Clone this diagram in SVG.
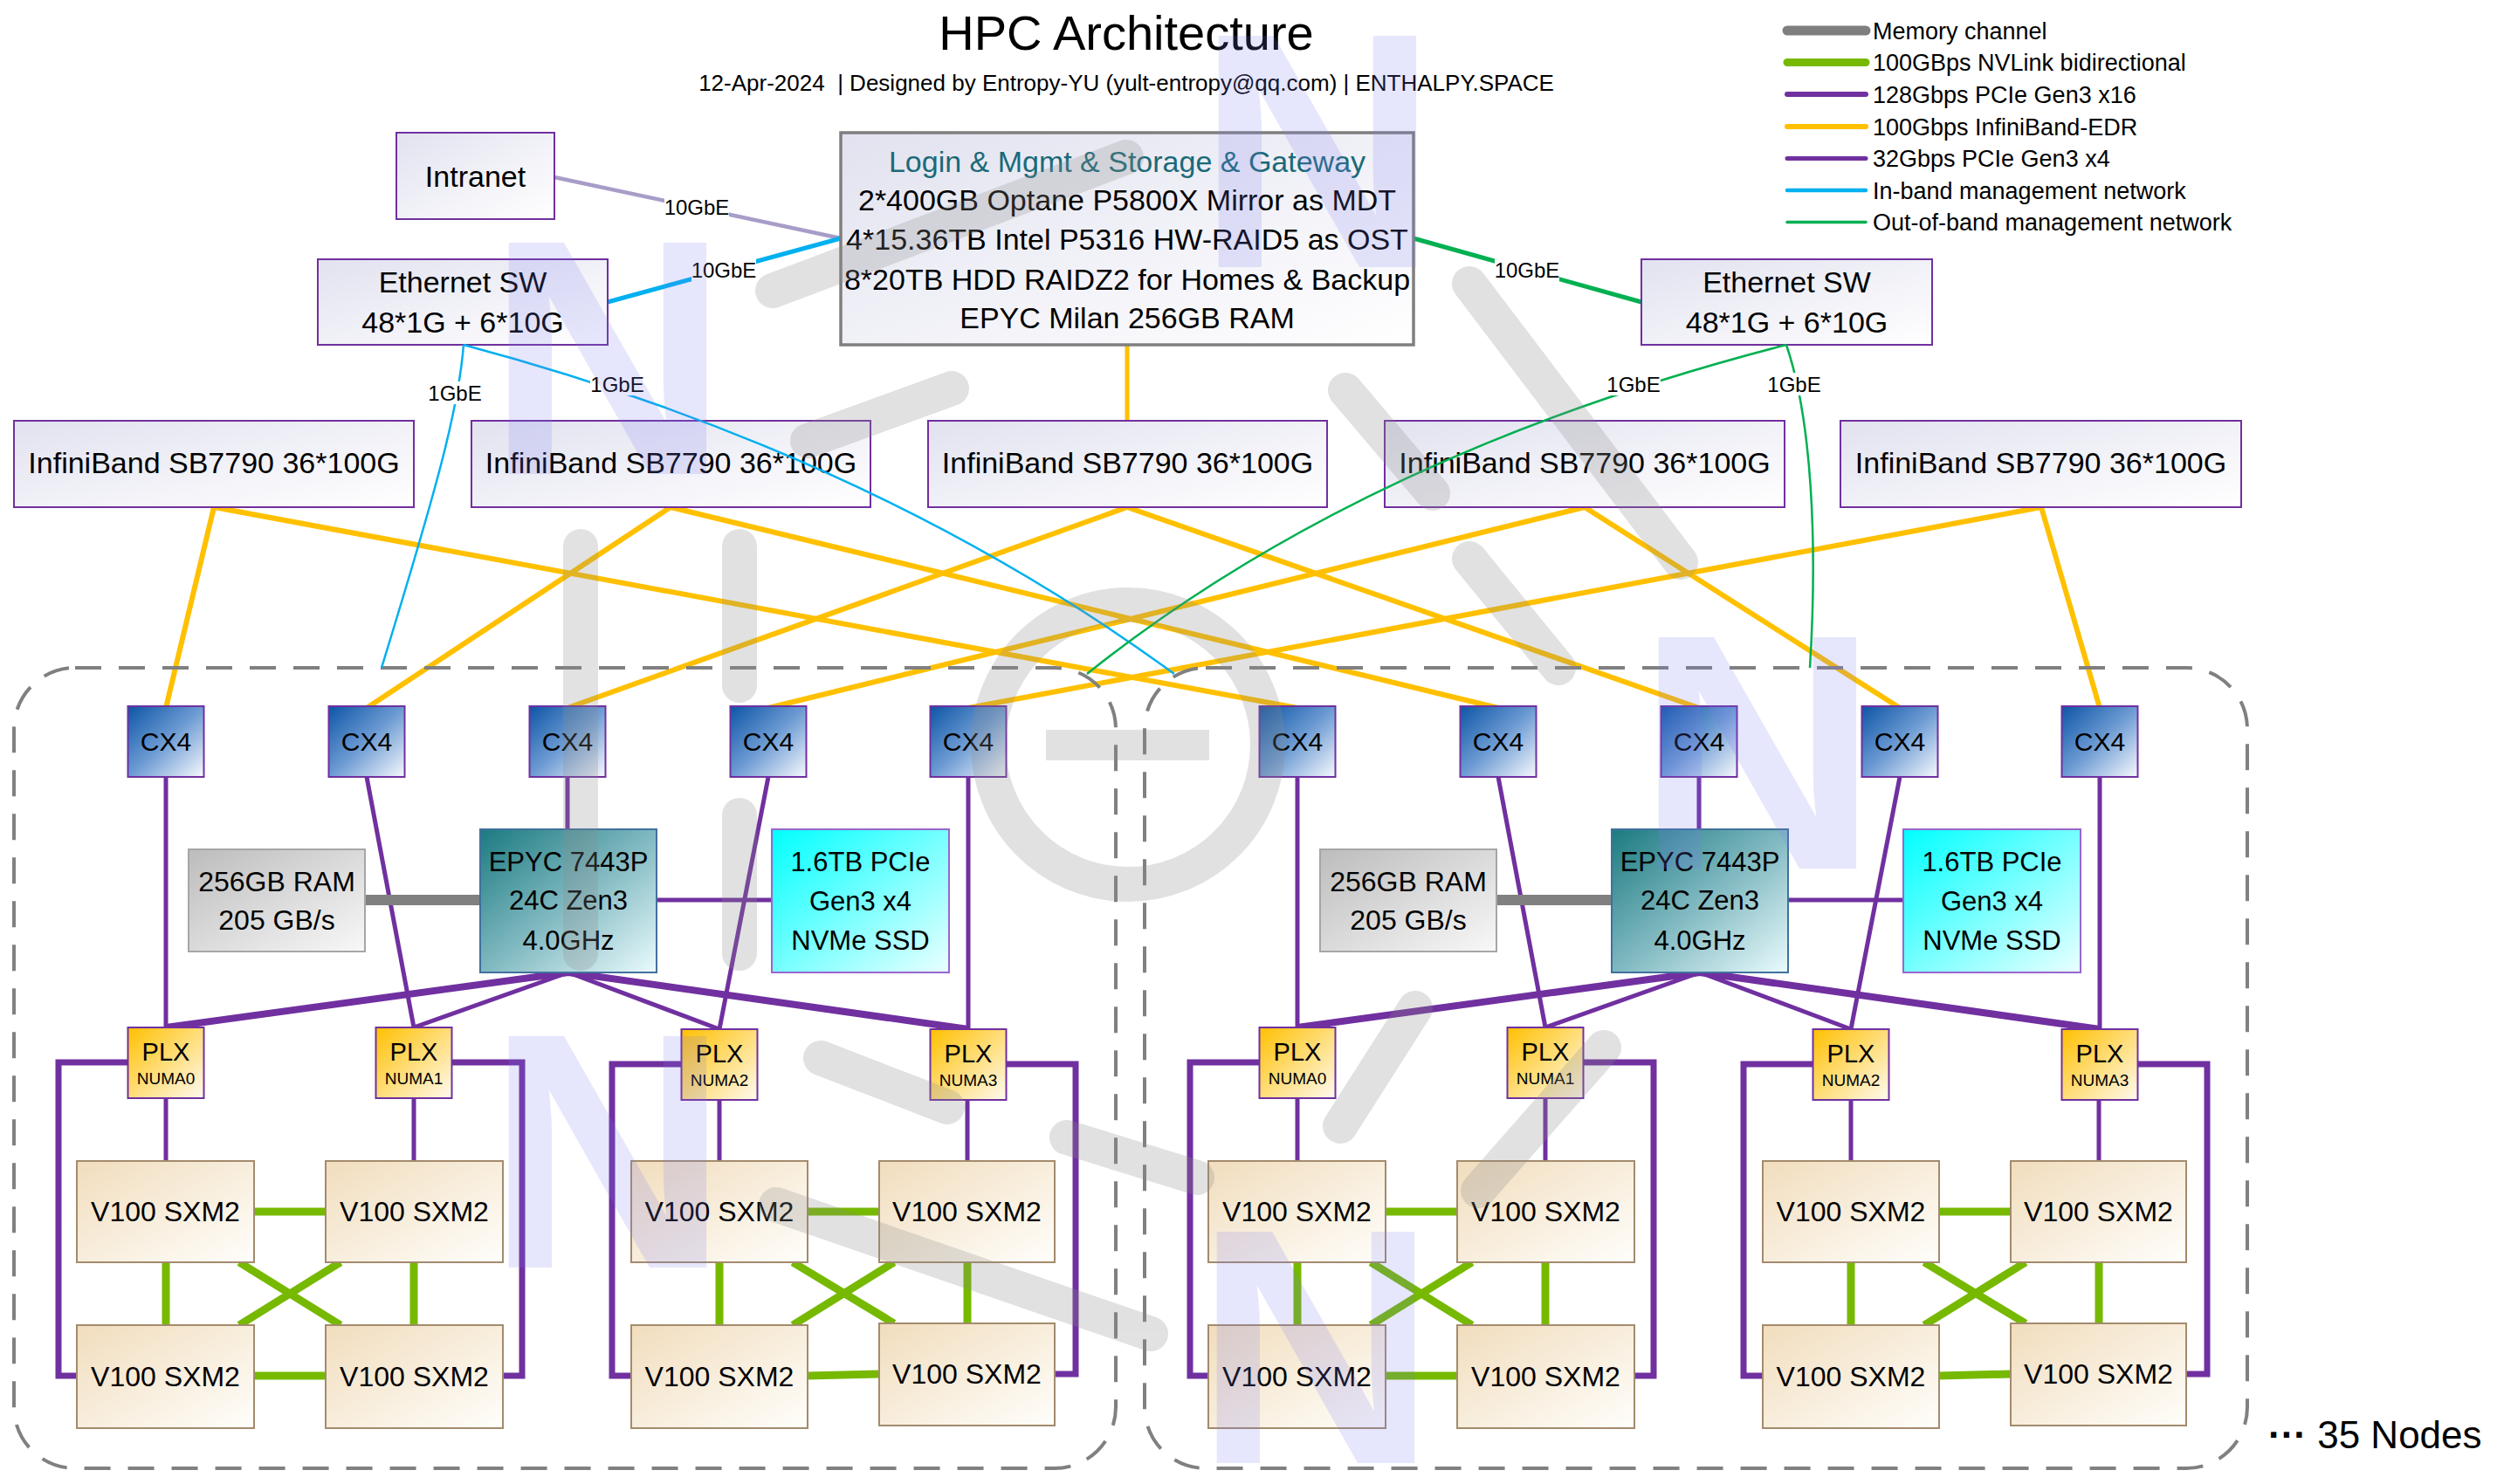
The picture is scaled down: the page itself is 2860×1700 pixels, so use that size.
<svg xmlns="http://www.w3.org/2000/svg" width="2860" height="1700" viewBox="0 0 2860 1700">
<defs>
<linearGradient id="gSw" x1="0" y1="0" x2="1" y2="1"><stop offset="0" stop-color="#e2e2f0"/><stop offset="1" stop-color="#ffffff"/></linearGradient>
<linearGradient id="gCx" x1="0" y1="0" x2="1" y2="1"><stop offset="0" stop-color="#0d55a6"/><stop offset="0.5" stop-color="#6d9bd3"/><stop offset="1" stop-color="#f7f9fd"/></linearGradient>
<linearGradient id="gCpu" x1="0" y1="0" x2="1" y2="1"><stop offset="0" stop-color="#1b7a80"/><stop offset="0.5" stop-color="#7fb8c0"/><stop offset="1" stop-color="#eafbfd"/></linearGradient>
<linearGradient id="gRam" x1="0" y1="0" x2="1" y2="1"><stop offset="0" stop-color="#bcbcbc"/><stop offset="1" stop-color="#f8f8f8"/></linearGradient>
<linearGradient id="gSsd" x1="0" y1="0" x2="1" y2="1"><stop offset="0" stop-color="#00ffff"/><stop offset="1" stop-color="#eaffff"/></linearGradient>
<linearGradient id="gPlx" x1="0" y1="0" x2="1" y2="1"><stop offset="0" stop-color="#ffc000"/><stop offset="1" stop-color="#fffaf0"/></linearGradient>
<linearGradient id="gGpu" x1="0" y1="0" x2="1" y2="1"><stop offset="0" stop-color="#f1ddbd"/><stop offset="1" stop-color="#fffefb"/></linearGradient>
</defs>
<style>
text{font-family:"Liberation Sans",Arial,sans-serif;fill:#000}
.c{text-anchor:middle}
.sw{fill:url(#gSw);stroke:#7030a0;stroke-width:2}
.login{fill:url(#gSw);stroke:#7f7f7f;stroke-width:3.5}
.cx{fill:url(#gCx);stroke:#7030a0;stroke-width:2}
.cpu{fill:url(#gCpu);stroke:#41719c;stroke-width:2}
.ram{fill:url(#gRam);stroke:#a6a6a6;stroke-width:2}
.ssd{fill:url(#gSsd);stroke:#9966cc;stroke-width:2}
.plx{fill:url(#gPlx);stroke:#7030a0;stroke-width:2}
.gpu{fill:url(#gGpu);stroke:#a38b6d;stroke-width:2}
.f34{font-size:34px}.f32{font-size:32px}.f31{font-size:31px}.f30{font-size:30px}.f29{font-size:29px}.f19{font-size:19px}.f24{font-size:24px}.f27{font-size:27px}
.ib{stroke:#ffc000;stroke-width:6;fill:none;stroke-linecap:round}
.pc{stroke:#7030a0;stroke-width:5;fill:none}
.pcw{stroke:#7030a0;stroke-width:8;fill:none}
.brk{stroke:#7030a0;stroke-width:7;fill:none;stroke-linecap:round}
.nv{stroke:#76b900;stroke-width:9;fill:none}
.mem{stroke:#808080;stroke-width:12;fill:none}
.inb{stroke:#00b0f0;stroke-width:2.5;fill:none}
.oob{stroke:#00b050;stroke-width:2.5;fill:none}
.bg{fill:#fff}
.dash{fill:none;stroke:#808080;stroke-width:4;stroke-dasharray:30 20}
.wm{fill:none;stroke:#8c8c8c;stroke-width:40;stroke-linecap:round}
.wn{font-family:"Liberation Sans",Arial,sans-serif;font-weight:bold;font-size:385px;fill:#7b7bf0;text-anchor:middle}
</style>
<rect width="2860" height="1700" fill="#fff"/>

<g id="title">
<text class="c" x="1290" y="57" font-size="56">HPC Architecture</text>
<text class="c" x="1290" y="104" font-size="26">12-Apr-2024 &#160;| Designed by Entropy-YU (yult-entropy@qq.com) | ENTHALPY.SPACE</text>
</g>

<g id="legend">
<line x1="2047" y1="35" x2="2137" y2="35" stroke="#7f7f7f" stroke-width="11" stroke-linecap="round"/>
<line x1="2047" y1="71.5" x2="2137" y2="71.5" stroke="#76b900" stroke-width="9" stroke-linecap="round"/>
<line x1="2047" y1="108" x2="2137" y2="108" stroke="#7030a0" stroke-width="6" stroke-linecap="round"/>
<line x1="2047" y1="145" x2="2137" y2="145" stroke="#ffc000" stroke-width="6" stroke-linecap="round"/>
<line x1="2047" y1="181.5" x2="2137" y2="181.5" stroke="#7030a0" stroke-width="5" stroke-linecap="round"/>
<line x1="2047" y1="218" x2="2137" y2="218" stroke="#00b0f0" stroke-width="4.5" stroke-linecap="round"/>
<line x1="2047" y1="254.5" x2="2137" y2="254.5" stroke="#00b050" stroke-width="3.5" stroke-linecap="round"/>
<text class="f27" x="2145" y="44.5">Memory channel</text>
<text class="f27" x="2145" y="81">100GBps NVLink bidirectional</text>
<text class="f27" x="2145" y="117.5">128Gbps PCIe Gen3 x16</text>
<text class="f27" x="2145" y="154.5">100Gbps InfiniBand-EDR</text>
<text class="f27" x="2145" y="191">32Gbps PCIe Gen3 x4</text>
<text class="f27" x="2145" y="227.5">In-band management network</text>
<text class="f27" x="2145" y="264">Out-of-band management network</text>
</g>

<g id="connectors">
<line x1="635" y1="203" x2="963" y2="273" stroke="#a89cc8" stroke-width="4.5"/>
<line x1="696" y1="346" x2="963" y2="273" stroke="#00b0f0" stroke-width="5"/>
<line x1="1619" y1="273" x2="1880" y2="346" stroke="#00b050" stroke-width="5"/>
<line x1="1291" y1="395" x2="1291" y2="483" stroke="#ffc000" stroke-width="5"/>
<g id="ib-links">
<path class="ib" d="M245,581 L190,811 M245,581 L1486,811"/>
<path class="ib" d="M768,581 L420,811 M768,581 L1716,811"/>
<path class="ib" d="M1291,581 L650,811 M1291,581 L1946,811"/>
<path class="ib" d="M1815,581 L880,811 M1815,581 L2176,811"/>
<path class="ib" d="M2338,581 L1109,811 M2338,581 L2405,811"/>
</g>
<g id="uplink-labels">
<rect class="bg" x="761" y="224" width="74" height="26"/><text class="c f24" x="798" y="246">10GbE</text>
<rect class="bg" x="792" y="296" width="74" height="26"/><text class="c f24" x="829" y="318">10GbE</text>
<rect class="bg" x="1712" y="296" width="74" height="26"/><text class="c f24" x="1749" y="318">10GbE</text>
</g>
<g id="server1-links">
<path class="pc" d="M190,890 V1177 M420,890 L474,1177 M650,890 V950 M880,890 L824,1179 M1109,890 V1179"/>
<path class="pcw" d="M651,1114 L190,1177 M651,1114 L1109,1179"/>
<path class="pc" stroke-width="5.5" d="M651,1114 L474,1177 M651,1114 L824,1179"/>
<path class="pc" d="M752,1031 H884"/>
<path class="mem" d="M418,1031 H550"/>
<path class="pc" d="M190,1258 V1330 M474,1258 V1330 M824,1260 V1330 M1108,1260 V1330"/>
<path class="brk" d="M146,1217 H67 V1576 H88 M517,1217 H598 V1576 H576 M781,1219 H701 V1576 H723 M1153,1219 H1232 V1574 H1208"/>
<path class="nv" d="M291,1388 H373 M291,1576 H373 M190,1446 V1518 M474,1446 V1518 M274,1446 L390,1518 M390,1446 L274,1518"/>
<path class="nv" d="M925,1388 H1007 M925,1576 L1007,1574 M824,1446 V1518 M1108,1446 V1516 M908,1446 L1024,1516 M1024,1446 L908,1518"/>
</g>
<g id="server2-links" transform="translate(1296,0)">
<path class="pc" d="M190,890 V1177 M420,890 L474,1177 M650,890 V950 M880,890 L824,1179 M1109,890 V1179"/>
<path class="pcw" d="M651,1114 L190,1177 M651,1114 L1109,1179"/>
<path class="pc" stroke-width="5.5" d="M651,1114 L474,1177 M651,1114 L824,1179"/>
<path class="pc" d="M752,1031 H884"/>
<path class="mem" d="M418,1031 H550"/>
<path class="pc" d="M190,1258 V1330 M474,1258 V1330 M824,1260 V1330 M1108,1260 V1330"/>
<path class="brk" d="M146,1217 H67 V1576 H88 M517,1217 H598 V1576 H576 M781,1219 H701 V1576 H723 M1153,1219 H1232 V1574 H1208"/>
<path class="nv" d="M291,1388 H373 M291,1576 H373 M190,1446 V1518 M474,1446 V1518 M274,1446 L390,1518 M390,1446 L274,1518"/>
<path class="nv" d="M925,1388 H1007 M925,1576 L1007,1574 M824,1446 V1518 M1108,1446 V1516 M908,1446 L1024,1516 M1024,1446 L908,1518"/>
</g>
</g>

<g id="server-frames">
<rect class="dash" x="16" y="765" width="1262" height="917" rx="70"/>
<rect class="dash" x="1311" y="765" width="1263" height="917" rx="70"/>
</g>

<g id="intranet"><rect class="sw" x="454" y="152" width="181" height="99"/><text class="c f34" x="544.5" y="214">Intranet</text></g>
<g id="eth-sw-1"><rect class="sw" x="364" y="297" width="332" height="98"/><text class="c f34" x="530" y="335">Ethernet SW</text><text class="c f34" x="530" y="381">48*1G + 6*10G</text></g>
<g id="eth-sw-2"><rect class="sw" x="1880" y="297" width="333" height="98"/><text class="c f34" x="2046.5" y="335">Ethernet SW</text><text class="c f34" x="2046.5" y="381">48*1G + 6*10G</text></g>
<g id="login"><rect class="login" x="963" y="152" width="656" height="243"/>
<text class="c f34" x="1291" y="197" style="fill:#1b6a78">Login &amp; Mgmt &amp; Storage &amp; Gateway</text>
<text class="c f34" x="1291" y="241">2*400GB Optane P5800X Mirror as MDT</text>
<text class="c f34" x="1291" y="286">4*15.36TB Intel P5316 HW-RAID5 as OST</text>
<text class="c f34" x="1291" y="332">8*20TB HDD RAIDZ2 for Homes &amp; Backup</text>
<text class="c f34" x="1291" y="376">EPYC Milan 256GB RAM</text></g>
<g id="ib-1"><rect class="sw" x="16" y="482" width="458" height="99"/><text class="c f34" x="245" y="542">InfiniBand SB7790 36*100G</text></g>
<g id="ib-2"><rect class="sw" x="540" y="482" width="457" height="99"/><text class="c f34" x="768.5" y="542">InfiniBand SB7790 36*100G</text></g>
<g id="ib-3"><rect class="sw" x="1063" y="482" width="457" height="99"/><text class="c f34" x="1291.5" y="542">InfiniBand SB7790 36*100G</text></g>
<g id="ib-4"><rect class="sw" x="1586" y="482" width="458" height="99"/><text class="c f34" x="1815" y="542">InfiniBand SB7790 36*100G</text></g>
<g id="ib-5"><rect class="sw" x="2108" y="482" width="459" height="99"/><text class="c f34" x="2337.5" y="542">InfiniBand SB7790 36*100G</text></g>

<g id="server1">
<g id="s1-cx4-1"><rect class="cx" x="146.5" y="809" width="87" height="81"/><text class="c f30" x="190" y="860">CX4</text></g>
<g id="s1-cx4-2"><rect class="cx" x="376.5" y="809" width="87" height="81"/><text class="c f30" x="420" y="860">CX4</text></g>
<g id="s1-cx4-3"><rect class="cx" x="606.5" y="809" width="87" height="81"/><text class="c f30" x="650" y="860">CX4</text></g>
<g id="s1-cx4-4"><rect class="cx" x="836.5" y="809" width="87" height="81"/><text class="c f30" x="880" y="860">CX4</text></g>
<g id="s1-cx4-5"><rect class="cx" x="1065.5" y="809" width="87" height="81"/><text class="c f30" x="1109" y="860">CX4</text></g>
<g id="s1-ram"><rect class="ram" x="216" y="973" width="202" height="117"/><text class="c f32" x="317" y="1021">256GB RAM</text><text class="c f32" x="317" y="1065">205 GB/s</text></g>
<g id="s1-cpu"><rect class="cpu" x="550" y="950" width="202" height="164"/><text class="c f31" x="651" y="998">EPYC 7443P</text><text class="c f31" x="651" y="1042">24C Zen3</text><text class="c f31" x="651" y="1088">4.0GHz</text></g>
<g id="s1-ssd"><rect class="ssd" x="884" y="950" width="203" height="164"/><text class="c f31" x="985.5" y="998">1.6TB PCIe</text><text class="c f31" x="985.5" y="1043">Gen3 x4</text><text class="c f31" x="985.5" y="1088">NVMe SSD</text></g>
<g id="s1-plx-0"><rect class="plx" x="146.5" y="1177" width="87" height="81"/><text class="c f29" x="190" y="1215">PLX</text><text class="c f19" x="190" y="1242">NUMA0</text></g>
<g id="s1-plx-1"><rect class="plx" x="430.5" y="1177" width="87" height="81"/><text class="c f29" x="474" y="1215">PLX</text><text class="c f19" x="474" y="1242">NUMA1</text></g>
<g id="s1-plx-2"><rect class="plx" x="780.5" y="1179" width="87" height="81"/><text class="c f29" x="824" y="1217">PLX</text><text class="c f19" x="824" y="1244">NUMA2</text></g>
<g id="s1-plx-3"><rect class="plx" x="1065.5" y="1179" width="87" height="81"/><text class="c f29" x="1109" y="1217">PLX</text><text class="c f19" x="1109" y="1244">NUMA3</text></g>
<g id="s1-gpu-0"><rect class="gpu" x="88" y="1330" width="203" height="116"/><text class="c f32" x="189.5" y="1399">V100 SXM2</text></g>
<g id="s1-gpu-1"><rect class="gpu" x="373" y="1330" width="203" height="116"/><text class="c f32" x="474.5" y="1399">V100 SXM2</text></g>
<g id="s1-gpu-2"><rect class="gpu" x="88" y="1518" width="203" height="118"/><text class="c f32" x="189.5" y="1588">V100 SXM2</text></g>
<g id="s1-gpu-3"><rect class="gpu" x="373" y="1518" width="203" height="118"/><text class="c f32" x="474.5" y="1588">V100 SXM2</text></g>
<g id="s1-gpu-4"><rect class="gpu" x="723" y="1330" width="202" height="116"/><text class="c f32" x="824" y="1399">V100 SXM2</text></g>
<g id="s1-gpu-5"><rect class="gpu" x="1007" y="1330" width="201" height="116"/><text class="c f32" x="1107.5" y="1399">V100 SXM2</text></g>
<g id="s1-gpu-6"><rect class="gpu" x="723" y="1518" width="202" height="118"/><text class="c f32" x="824" y="1588">V100 SXM2</text></g>
<g id="s1-gpu-7"><rect class="gpu" x="1007" y="1516" width="201" height="117"/><text class="c f32" x="1107.5" y="1585">V100 SXM2</text></g>
</g>

<g id="server2" transform="translate(1296,0)">
<g id="s2-cx4-1"><rect class="cx" x="146.5" y="809" width="87" height="81"/><text class="c f30" x="190" y="860">CX4</text></g>
<g id="s2-cx4-2"><rect class="cx" x="376.5" y="809" width="87" height="81"/><text class="c f30" x="420" y="860">CX4</text></g>
<g id="s2-cx4-3"><rect class="cx" x="606.5" y="809" width="87" height="81"/><text class="c f30" x="650" y="860">CX4</text></g>
<g id="s2-cx4-4"><rect class="cx" x="836.5" y="809" width="87" height="81"/><text class="c f30" x="880" y="860">CX4</text></g>
<g id="s2-cx4-5"><rect class="cx" x="1065.5" y="809" width="87" height="81"/><text class="c f30" x="1109" y="860">CX4</text></g>
<g id="s2-ram"><rect class="ram" x="216" y="973" width="202" height="117"/><text class="c f32" x="317" y="1021">256GB RAM</text><text class="c f32" x="317" y="1065">205 GB/s</text></g>
<g id="s2-cpu"><rect class="cpu" x="550" y="950" width="202" height="164"/><text class="c f31" x="651" y="998">EPYC 7443P</text><text class="c f31" x="651" y="1042">24C Zen3</text><text class="c f31" x="651" y="1088">4.0GHz</text></g>
<g id="s2-ssd"><rect class="ssd" x="884" y="950" width="203" height="164"/><text class="c f31" x="985.5" y="998">1.6TB PCIe</text><text class="c f31" x="985.5" y="1043">Gen3 x4</text><text class="c f31" x="985.5" y="1088">NVMe SSD</text></g>
<g id="s2-plx-0"><rect class="plx" x="146.5" y="1177" width="87" height="81"/><text class="c f29" x="190" y="1215">PLX</text><text class="c f19" x="190" y="1242">NUMA0</text></g>
<g id="s2-plx-1"><rect class="plx" x="430.5" y="1177" width="87" height="81"/><text class="c f29" x="474" y="1215">PLX</text><text class="c f19" x="474" y="1242">NUMA1</text></g>
<g id="s2-plx-2"><rect class="plx" x="780.5" y="1179" width="87" height="81"/><text class="c f29" x="824" y="1217">PLX</text><text class="c f19" x="824" y="1244">NUMA2</text></g>
<g id="s2-plx-3"><rect class="plx" x="1065.5" y="1179" width="87" height="81"/><text class="c f29" x="1109" y="1217">PLX</text><text class="c f19" x="1109" y="1244">NUMA3</text></g>
<g id="s2-gpu-0"><rect class="gpu" x="88" y="1330" width="203" height="116"/><text class="c f32" x="189.5" y="1399">V100 SXM2</text></g>
<g id="s2-gpu-1"><rect class="gpu" x="373" y="1330" width="203" height="116"/><text class="c f32" x="474.5" y="1399">V100 SXM2</text></g>
<g id="s2-gpu-2"><rect class="gpu" x="88" y="1518" width="203" height="118"/><text class="c f32" x="189.5" y="1588">V100 SXM2</text></g>
<g id="s2-gpu-3"><rect class="gpu" x="373" y="1518" width="203" height="118"/><text class="c f32" x="474.5" y="1588">V100 SXM2</text></g>
<g id="s2-gpu-4"><rect class="gpu" x="723" y="1330" width="202" height="116"/><text class="c f32" x="824" y="1399">V100 SXM2</text></g>
<g id="s2-gpu-5"><rect class="gpu" x="1007" y="1330" width="201" height="116"/><text class="c f32" x="1107.5" y="1399">V100 SXM2</text></g>
<g id="s2-gpu-6"><rect class="gpu" x="723" y="1518" width="202" height="118"/><text class="c f32" x="824" y="1588">V100 SXM2</text></g>
<g id="s2-gpu-7"><rect class="gpu" x="1007" y="1516" width="201" height="117"/><text class="c f32" x="1107.5" y="1585">V100 SXM2</text></g>
</g>

<g id="mgmt-links">
<path class="inb" d="M531,395 C525,470 500,560 437,765"/>
<path class="inb" d="M531,395 Q1000,520 1345,772"/>
<path class="oob" d="M2046,395 Q1560,520 1245,772"/>
<path class="oob" d="M2046,395 C2075,480 2082,620 2073,765"/>
<rect class="bg" x="490" y="437" width="62" height="26"/><text class="c f24" x="521" y="459">1GbE</text>
<rect class="bg" x="676" y="427" width="62" height="26"/><text class="c f24" x="707" y="449">1GbE</text>
<rect class="bg" x="1840" y="427" width="62" height="26"/><text class="c f24" x="1871" y="449">1GbE</text>
<rect class="bg" x="2024" y="427" width="62" height="26"/><text class="c f24" x="2055" y="449">1GbE</text>
</g>

<g id="more-nodes"><text x="2598" y="1659" font-size="44"><tspan font-weight="bold">···</tspan> 35 Nodes</text></g>

<g id="watermark">
<g opacity="0.25">
<circle class="wm" cx="1292" cy="853" r="160" stroke-width="37"/>
<rect x="1198" y="836" width="187" height="35" fill="#8c8c8c"/>
<path class="wm" d="M665,626 V1092 M847,626 V785 M847,934 V1092"/>
<path class="wm" d="M885,333 L1290,180 M925,505 L1090,445 M1621,1155 L1535,1290 M1837,1200 L1693,1364"/>
<path class="wm" d="M1683,325 L1925,644 M1541,447 L1641,565 M1683,640 L1785,765 M940,1212 L1085,1268 M1222,1303 L1371,1349 M889,1380 L1318,1528"/>
</g>
<g opacity="0.18">
<text class="wn" x="696" y="543">N</text>
<text class="wn" x="1509" y="306">N</text>
<text class="wn" x="2013" y="995">N</text>
<text class="wn" x="696" y="1452">N</text>
<text class="wn" x="1507" y="1676">N</text>
</g>
</g>
</svg>
